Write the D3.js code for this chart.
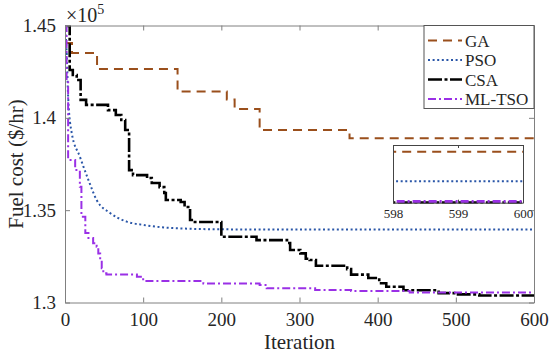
<!DOCTYPE html>
<html><head><meta charset="utf-8">
<script src="https://cdn.jsdelivr.net/npm/d3@7"></script>
<style>body{margin:0;background:#fff} svg{display:block}</style>
</head><body><svg id="c" width="550" height="354"></svg>
<script>
// ---- data (values in units of 1e5 $/hr) ----
const seriesNames = ["GA", "PSO", "CSA", "ML-TSO"];
const iterTicks = [0, 100, 200, 300, 400, 500, 600];
const costTicks = [1.3, 1.35, 1.4, 1.45];
const insetTicks = [598, 599, 600];
const gaData = [[0,1.4405],[9,1.4351],[41,1.4264],[144,1.4143],[207,1.4099],[217,1.4048],[249,1.3934],[364,1.3889],[600,1.3889]];
const psoData = [[0,1.45],[2,1.4367],[4.2,1.4097],[8.6,1.3918],[19,1.3790],[30,1.3663],[40.5,1.3555],[57.6,1.3485],[79,1.3438],[100,1.3420],[143,1.3402],[207,1.3396],[600,1.3395]];
const csaData = [[0,1.4497],[6,1.4259],[10,1.4232],[15,1.4205],[20,1.4097],[27,1.4070],[55,1.4042],[65,1.4015],[72,1.3988],[77,1.3934],[82,1.3717],[87,1.3690],[105,1.3674],[111,1.3647],[121,1.3625],[127,1.3593],[129,1.3555],[148,1.3544],[153,1.3517],[160,1.3447],[164,1.3436],[200,1.3356],[245,1.3338],[284,1.3322],[288,1.3284],[301,1.3266],[308,1.3237],[313,1.3230],[321,1.3199],[361,1.3181],[366,1.3151],[388,1.3133],[402,1.3104],[411,1.3085],[433,1.3066],[478,1.3051],[500,1.3044],[530,1.3038],[600,1.3035]];
const mltsoData = [[0,1.45],[2,1.4200],[4,1.3772],[13,1.3717],[19,1.3627],[21,1.3465],[26,1.3376],[30,1.3349],[36,1.3321],[40.5,1.3302],[42.6,1.3266],[45,1.3230],[47,1.3185],[49,1.3158],[53,1.3152],[92,1.3140],[100,1.3116],[177,1.3103],[249,1.3095],[258,1.3077],[320,1.3068],[366,1.3062],[441,1.3054],[600,1.3054]];

const styles = {
  "GA":     {data: gaData,    color: "#9a4f1c", dash: "9,6",          width: 2,   curve: d3.curveStepAfter},
  "PSO":    {data: psoData,   color: "#2a56a8", dash: "2,2.6",        width: 2,   curve: d3.curveMonotoneX},
  "CSA":    {data: csaData,   color: "#000000", dash: "14,2.5,3,2.5", width: 2.6, curve: d3.curveStepAfter},
  "ML-TSO": {data: mltsoData, color: "#9a30e6", dash: "8,3,2,3",      width: 2,   curve: d3.curveStepAfter}
};

const FONT = "Liberation Serif";
const svg = d3.select("#c").attr("font-family", FONT);
const L = 65, R = 534, T = 25.5, B = 302.5;
const x = d3.scaleLinear().domain([0, 600]).range([L, R]);
const y = d3.scaleLinear().domain([1.3, 1.45]).range([B, T]);

svg.append("defs").append("clipPath").attr("id", "pc")
  .append("rect").attr("x", L).attr("y", T).attr("width", R - L).attr("height", B - T);

// curves
const gLines = svg.append("g").attr("clip-path", "url(#pc)");
for (const name of seriesNames) {
  const s = styles[name];
  gLines.append("path").datum(s.data)
    .attr("d", d3.line().x(d => x(d[0])).y(d => y(d[1])).curve(s.curve))
    .attr("fill", "none").attr("stroke", s.color).attr("stroke-width", s.width)
    .attr("stroke-dasharray", s.dash);
}

// axes (MATLAB-like box, inward ticks)
const axCol = "#808080", txtCol = "#262626";
function styleAxis(g) {
  g.attr("font-family", FONT);
  g.select(".domain").attr("stroke", axCol);
  g.selectAll(".tick line").attr("stroke", axCol);
  g.selectAll(".tick text").attr("fill", txtCol).attr("font-family", FONT).attr("font-size", 19);
}
svg.append("g").attr("transform", `translate(0,${B})`)
  .call(d3.axisBottom(x).tickValues(iterTicks).tickFormat(d3.format("d")).tickSizeInner(-5).tickSizeOuter(0).tickPadding(10))
  .call(styleAxis);
svg.append("g").attr("transform", `translate(0,${T})`)
  .call(d3.axisTop(x).tickValues(iterTicks).tickFormat("").tickSizeInner(-5).tickSizeOuter(0))
  .call(styleAxis);
svg.append("g").attr("transform", `translate(${L},0)`)
  .call(d3.axisLeft(y).tickValues(costTicks).tickFormat(d => d === 1.3 ? "1.3" : d3.format(".2f")(d).replace(/0$/, "")).tickSizeInner(-5).tickSizeOuter(0).tickPadding(9))
  .call(styleAxis);
svg.append("g").attr("transform", `translate(${R},0)`)
  .call(d3.axisRight(y).tickValues(costTicks).tickFormat("").tickSizeInner(-5).tickSizeOuter(0))
  .call(styleAxis);

// exponent
const ex = svg.append("text").attr("x", L + 1).attr("y", 22).attr("fill", txtCol)
  .attr("font-family", FONT).attr("font-size", 20);
ex.append("tspan").text("\u00d710");
ex.append("tspan").attr("dy", -8).attr("font-size", 14).text("5");

// axis labels
svg.append("text").attr("x", (L + R) / 2).attr("y", 349).attr("text-anchor", "middle")
  .attr("fill", txtCol).attr("font-family", FONT).attr("font-size", 21).text("Iteration");
svg.append("text").attr("transform", `translate(23,${(T + B) / 2}) rotate(-90)`).attr("text-anchor", "middle")
  .attr("fill", txtCol).attr("font-family", FONT).attr("font-size", 21).text("Fuel cost ($/hr)");

// legend
const lg = svg.append("g");
const lgX0 = 424, lgY0 = T;
lg.append("rect").attr("x", lgX0).attr("y", lgY0).attr("width", R - lgX0).attr("height", 83)
  .attr("fill", "#fff").attr("stroke", "#555").attr("stroke-width", 1);
seriesNames.forEach((name, i) => {
  const s = styles[name], yy = lgY0 + 15 + i * 19.5;
  lg.append("line").attr("x1", lgX0 + 4).attr("x2", lgX0 + 38).attr("y1", yy).attr("y2", yy)
    .attr("stroke", s.color).attr("stroke-width", s.width).attr("stroke-dasharray", s.dash);
  lg.append("text").attr("x", lgX0 + 41).attr("y", yy + 6).attr("fill", txtCol)
    .attr("font-family", FONT).attr("font-size", 17).text(name);
});

// inset (zoom on iterations 598-600)
const iL = 393, iR = 523, iT = 145, iB = 202.7;
const xi = d3.scaleLinear().domain([598, 600]).range([iL, iR]);
const yi = d3.scaleLinear().domain([1.3035, 1.4001]).range([iB, iT]);
svg.append("rect").attr("x", iL).attr("y", iT).attr("width", iR - iL).attr("height", iB - iT).attr("fill", "#fff");
svg.select("defs").append("clipPath").attr("id", "ic")
  .append("rect").attr("x", iL).attr("y", iT - 1).attr("width", iR - iL).attr("height", iB - iT + 2);
const gi = svg.append("g").attr("clip-path", "url(#ic)");
for (const name of seriesNames) {
  const s = styles[name];
  gi.append("path").datum(s.data)
    .attr("d", d3.line().x(d => xi(d[0])).y(d => yi(d[1])).curve(s.curve))
    .attr("fill", "none").attr("stroke", s.color).attr("stroke-width", name === "ML-TSO" ? 3 : s.width)
    .attr("stroke-dasharray", s.dash);
}
function styleInset(g) {
  g.attr("font-family", FONT);
  g.select(".domain").attr("stroke", "#444");
  g.selectAll(".tick line").attr("stroke", "#444");
  g.selectAll(".tick text").attr("fill", txtCol).attr("font-family", FONT).attr("font-size", 13);
}
svg.append("g").attr("transform", `translate(0,${iB})`)
  .call(d3.axisBottom(xi).tickValues(insetTicks).tickFormat(d3.format("d")).tickSizeInner(-3).tickSizeOuter(0).tickPadding(6))
  .call(styleInset);
svg.append("g").attr("transform", `translate(0,${iT})`)
  .call(d3.axisTop(xi).tickValues(insetTicks).tickFormat("").tickSizeInner(-3).tickSizeOuter(0))
  .call(styleInset);
svg.append("g").attr("transform", `translate(${iL},0)`)
  .call(d3.axisLeft(yi).tickValues([]).tickSizeOuter(0)).call(styleInset);
svg.append("g").attr("transform", `translate(${iR},0)`)
  .call(d3.axisRight(yi).tickValues([]).tickSizeOuter(0)).call(styleInset);
</script></body></html>
